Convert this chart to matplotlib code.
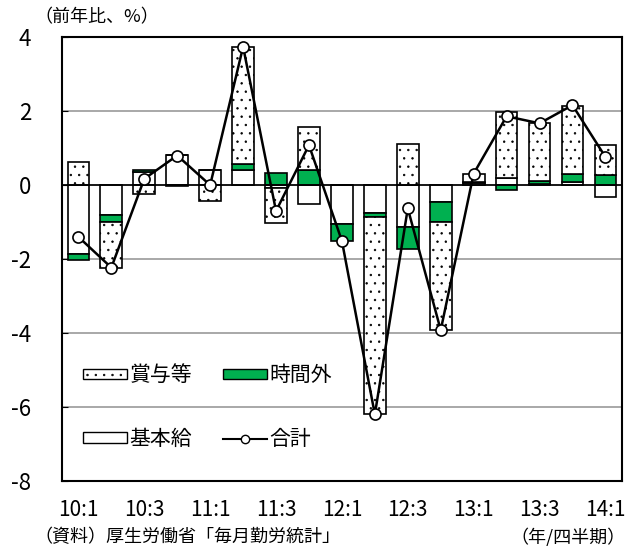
import numpy as np
import matplotlib
matplotlib.use('Agg')
import matplotlib.pyplot as plt
from matplotlib.patches import Patch
from matplotlib.lines import Line2D

plt.rcParams['font.family'] = ['Noto Sans CJK JP', 'DejaVu Sans']
plt.rcParams['hatch.linewidth'] = 0.5
plt.rcParams['hatch.color'] = '#606060'
plt.rcParams['axes.unicode_minus'] = False

quarters = ['10:1', '10:2', '10:3', '10:4', '11:1', '11:2', '11:3', '11:4',
            '12:1', '12:2', '12:3', '12:4', '13:1', '13:2', '13:3', '13:4', '14:1']
kihon = [-1.85, -0.81, 0.35, 0.82, 0.40, 0.40, -0.08, -0.50,
         -1.06, -0.75, -1.14, -0.45, 0.06, 0.18, 0.02, 0.09, -0.33]
jikangai = [-0.17, -0.18, 0.06, -0.02, 0.00, 0.18, 0.32, 0.40,
            -0.45, -0.10, -0.60, -0.54, 0.02, -0.12, 0.08, 0.22, 0.27]
shoyo = [0.63, -1.24, -0.24, 0.00, -0.42, 3.16, -0.95, 1.17,
         0.00, -5.35, 1.10, -2.93, 0.23, 1.80, 1.57, 1.83, 0.81]
total = [-1.40, -2.23, 0.17, 0.80, 0.00, 3.74, -0.70, 1.08,
         -1.51, -6.20, -0.63, -3.92, 0.31, 1.86, 1.67, 2.16, 0.76]

green = '#00B050'
x = np.arange(len(quarters))
w = 0.66

fig = plt.figure(figsize=(6.32, 5.46), dpi=100)
ax = fig.add_axes([0.098, 0.119, 0.886, 0.813])

pos = np.zeros(len(x))
neg = np.zeros(len(x))
series = [(kihon, dict(facecolor='white')),
          (jikangai, dict(facecolor=green)),
          (shoyo, dict(facecolor='white', hatch='..'))]
for vals, style in series:
    vals = np.array(vals)
    bottom = np.where(vals >= 0, pos, neg)
    ax.bar(x, vals, w, bottom=bottom, edgecolor='black', linewidth=1.2, zorder=2, **style)
    pos = pos + np.clip(vals, 0, None)
    neg = neg + np.clip(vals, None, 0)

ax.axhline(0, color='black', lw=1.2, zorder=3)
ax.plot(x, total, color='black', lw=1.8, marker='o', ms=8,
        markerfacecolor='white', markeredgecolor='black', markeredgewidth=1.2, zorder=4)

ax.set_xlim(-0.5, len(x) - 0.5)
ax.set_ylim(-8, 4)
ax.set_yticks(range(-8, 5, 2))
ax.yaxis.grid(True, color='#999999', lw=1.2, zorder=0)
ax.set_axisbelow(True)
ax.set_xticks(x[::2])
ax.set_xticklabels(quarters[::2])
ax.tick_params(axis='y', direction='in', length=4, labelsize=16, pad=22)
ax.tick_params(axis='x', length=0, labelsize=15, pad=13)
for s in ax.spines.values():
    s.set_linewidth(1.5)

handles = [Patch(facecolor='white', edgecolor='black', hatch='..', lw=1.0),
           Patch(facecolor='white', edgecolor='black', lw=1.0),
           Patch(facecolor=green, edgecolor='black', lw=1.0),
           Line2D([], [], color='black', lw=1.5, marker='o', ms=6,
                  markerfacecolor='white', markeredgecolor='black')]
labels = ['賞与等', '基本給', '時間外', '合計']
ax.legend(handles, labels, ncol=2, loc='upper left', bbox_to_anchor=(0.005, 0.305),
          frameon=False, fontsize=15, handlelength=2.1, handleheight=0.4,
          handletextpad=0.1, labelspacing=2.0, columnspacing=1.5)

fig.text(0.055, 0.968, '（前年比、%）', fontsize=13, ha='left', va='center')
fig.text(0.055, 0.016, '（資料）厚生労働省「毎月勤労統計」', fontsize=13, ha='left', va='center')
fig.text(0.99, 0.016, '（年/四半期）', fontsize=13, ha='right', va='center')

fig.savefig('out.png', dpi=100)
